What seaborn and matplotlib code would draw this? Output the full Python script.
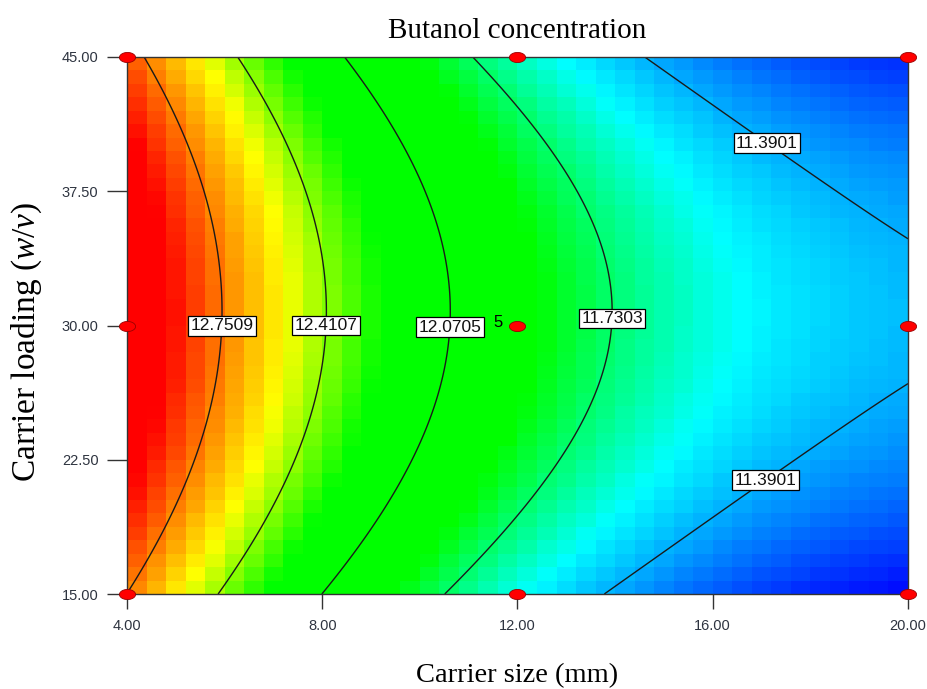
import numpy as np
import pandas as pd
import matplotlib
matplotlib.use("Agg")
import matplotlib.pyplot as plt
from matplotlib.colors import LinearSegmentedColormap
import seaborn as sns

# --- Data ---
size_range = [4.0, 20.0]          # Carrier size (mm)
loading_range = [15.0, 45.0]      # Carrier loading (w/v)
size_ticks = [4.0, 8.0, 12.0, 16.0, 20.0]
loading_ticks = [15.0, 22.5, 30.0, 37.5, 45.0]

# response-surface terms in coded units, estimated from where the contours sit
model_terms = ["const", "A", "B", "A2", "B2", "AB"]
model_coef = [11.914, -0.845, 0.034, 0.3434, -0.319, 0.0]

contour_levels = [11.3901, 11.7303, 12.0705, 12.4107, 12.7509]
color_range = [11.0499, 13.0911]

# where the contour labels sit
label_size = [5.9, 8.1, 10.7, 13.8, 17.24, 17.05]
label_loading = [30.0, 30.0, 29.9, 30.4, 40.7, 21.5]

# design points
design_size = [4, 4, 4, 12, 12, 12, 20, 20, 20]
design_loading = [15, 30, 45, 15, 30, 45, 15, 30, 45]
center_runs = 5

N_CELLS = 40


def response(size, loading):
    c = dict(zip(model_terms, model_coef))
    a = (size - np.mean(size_range)) / (np.diff(size_range)[0] / 2)
    b = (loading - np.mean(loading_range)) / (np.diff(loading_range)[0] / 2)
    return (c["const"] + c["A"] * a + c["B"] * b + c["A2"] * a ** 2
            + c["B2"] * b ** 2 + c["AB"] * a * b)


# --- Style ---
sns.set_theme(style="ticks")
plt.rcParams["font.family"] = ["Liberation Sans", "DejaVu Sans"]
plt.rcParams["mathtext.fontset"] = "custom"
plt.rcParams["mathtext.rm"] = "Liberation Serif"
plt.rcParams["mathtext.it"] = "Liberation Serif:italic"

# Design-Expert style rainbow with a wide green band
de_cmap = LinearSegmentedColormap.from_list(
    "design_expert",
    [(0.0, "#0000ff"), (0.24, "#00ffff"), (0.40, "#00ff00"), (0.59, "#00ff00"),
     (0.73, "#ffff00"), (0.93, "#ff0000"), (1.0, "#ff0000")])

fig = plt.figure(figsize=(9.28, 6.89), dpi=100)
ax = fig.add_axes([127 / 928, 1 - 594 / 689, 781 / 928, 537 / 689])

# --- Blocky colour cells ---
x_edges = np.linspace(size_range[0], size_range[1], N_CELLS + 1)
y_edges = np.linspace(loading_range[0], loading_range[1], N_CELLS + 1)
xc = (x_edges[:-1] + x_edges[1:]) / 2
yc = (y_edges[:-1] + y_edges[1:]) / 2
XC, YC = np.meshgrid(xc, yc)
cells = response(XC, YC)
ax.pcolormesh(x_edges, y_edges, cells, cmap=de_cmap,
              vmin=color_range[0], vmax=color_range[1],
              shading="flat", edgecolors="face", linewidth=0)

# --- Contour lines with boxed labels ---
xf = np.linspace(size_range[0], size_range[1], 241)
yf = np.linspace(loading_range[0], loading_range[1], 241)
XF, YF = np.meshgrid(xf, yf)
cs = ax.contour(XF, YF, response(XF, YF), levels=contour_levels,
                colors="#1a1a1a", linewidths=1.0)
fmt = {lev: f"{lev:.4f}" for lev in contour_levels}
labels = ax.clabel(cs, cs.levels, fmt=fmt, inline=False, fontsize=12.5,
                   manual=list(zip(label_size, label_loading)))
for t in labels:
    t.set_rotation(0)
    t.set_color("#111111")
    t.set_zorder(5)
    t.set_bbox(dict(boxstyle="square,pad=0.14", fc="white", ec="black", lw=0.9))

# --- Design points ---
theta = np.linspace(0, 2 * np.pi, 60)
ellipse = np.column_stack([1.6 * np.cos(theta), np.sin(theta)])
sns.scatterplot(x=design_size, y=design_loading, ax=ax, marker=ellipse, s=135,
                color="#ff0000", edgecolor="#990000", linewidth=0.6,
                clip_on=False, zorder=10, legend=False)
ax.annotate(str(center_runs), xy=(np.mean(size_range), np.mean(loading_range)),
            xytext=(-14, 2), textcoords="offset points", ha="center", va="center",
            fontsize=12, color="black", zorder=11)

# --- Axes ---
ax.set_xlim(size_range)
ax.set_ylim(loading_range)
ax.set_xticks(size_ticks)
ax.set_yticks(loading_ticks)
ax.set_xticklabels([f"{v:.2f}" for v in size_ticks])
ax.set_yticklabels([f"{v:.2f}" for v in loading_ticks])
ax.tick_params(axis="x", length=11, width=1, pad=7, color="#333333",
               labelsize=10.5, labelcolor="#2e3440")
ax.tick_params(axis="y", length=14.5, width=1, pad=6, color="#333333",
               labelsize=10.5, labelcolor="#2e3440")
for sp in ax.spines.values():
    sp.set_visible(True)
    sp.set_color("#333333")
    sp.set_linewidth(1.0)

ax.set_title("Butanol concentration", family="Liberation Serif", fontsize=21,
             pad=14, color="black")
ax.set_xlabel("Carrier size (mm)", family="Liberation Serif", fontsize=20.5,
              color="black")
ax.xaxis.set_label_coords(0.5, -(663 - 594) / 537)
ax.xaxis.label.set_va("top")
ax.set_ylabel(r"Carrier loading ($w/v$)", family="Liberation Serif",
              fontsize=24, color="black")
ax.yaxis.label.set_va("center")
ax.yaxis.set_label_coords((27 - 127) / 781, 1 - (342 - 57) / 537)

fig.savefig("out.png", dpi=100)
